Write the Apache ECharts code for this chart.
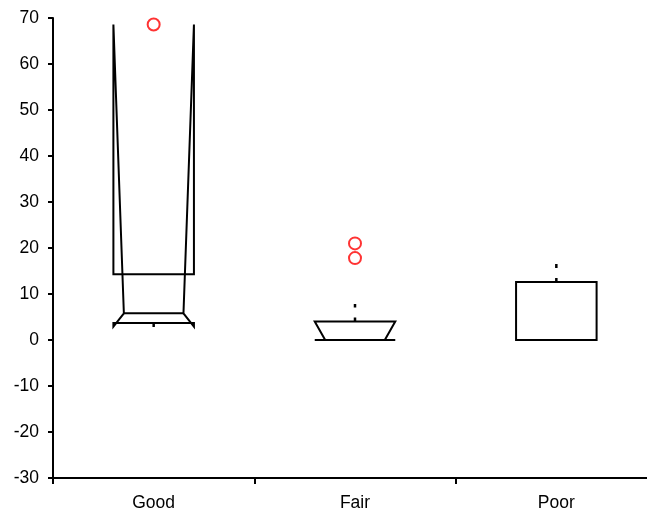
<!DOCTYPE html>
<html>
<head>
<meta charset="utf-8">
<script src="https://cdn.jsdelivr.net/npm/echarts@6/dist/echarts.min.js"></script>
<style>html,body{margin:0;padding:0;background:#fff;overflow:hidden;}#c{width:664px;height:517px;}</style>
</head>
<body>
<div id="c"></div>
<script>
var categories = ['Good', 'Fair', 'Poor'];
var q1 = [3.7, 0, 0];
var median = [5.8, 0, 0];
var q3 = [14.3, 4.0, 12.6];
var notchLow = [2.9, 0, 0];
var notchHigh = [68.6, 4.0, 0];
var whiskerLow = [2.8, 0, 0];
var whiskerHigh = [14.3, 7.8, 16.5];
var outliers = [[0, 68.6], [1, 21.0], [1, 17.8]];
var yTicks = {min: -30, max: 70, interval: 10};

var boxData = categories.map(function (c, i) {
  return [i, q1[i], median[i], q3[i], notchLow[i], notchHigh[i], whiskerLow[i], whiskerHigh[i]];
});

function renderBox(params, api) {
  var i = api.value(0);
  var band = api.size([1, 0])[0];
  var half = band * 0.2;
  var inset = half * 0.26;
  var cx = api.coord([i, 0])[0];
  var L = cx - half, R = cx + half, IL = L + inset, IR = R - inset;
  function y(v) { return api.coord([i, v])[1]; }
  var vq1 = api.value(1), vmed = api.value(2), vq3 = api.value(3);
  var vnl = api.value(4), vnh = api.value(5), vwl = api.value(6), vwh = api.value(7);
  var pts = [
    [L, y(vq1)], [L, y(vnl)], [IL, y(vmed)], [L, y(vnh)], [L, y(vq3)],
    [R, y(vq3)], [R, y(vnh)], [IR, y(vmed)], [R, y(vnl)], [R, y(vq1)]
  ];
  var children = [
    {type: 'polygon', shape: {points: pts}, style: {stroke: '#000', fill: 'none', lineWidth: 2}},
    {type: 'line', shape: {x1: IL, y1: y(vmed), x2: IR, y2: y(vmed)}, style: {stroke: '#000', lineWidth: 2}}
  ];
  if (vwh > vq3) {
    children.push({type: 'line', shape: {x1: cx, y1: y(vq3), x2: cx, y2: y(vwh)},
      style: {stroke: '#000', lineWidth: 2.5, lineDash: [4, 10]}});
  }
  if (vwl < vq1) {
    children.push({type: 'line', shape: {x1: cx, y1: y(vq1), x2: cx, y2: y(vwl)},
      style: {stroke: '#000', lineWidth: 2.5, lineDash: [4, 10]}});
  }
  return {type: 'group', children: children};
}

var font = 'Liberation Sans, Arial, sans-serif';
var chart = echarts.init(document.getElementById('c'), null, {renderer: 'canvas'});
chart.setOption({
  animation: false,
  backgroundColor: '#fff',
  grid: {left: 53, right: 7, top: 18, bottom: 39, containLabel: false},
  xAxis: {
    type: 'category',
    data: categories,
    boundaryGap: true,
    axisLine: {onZero: false, lineStyle: {color: '#000', width: 2}},
    axisTick: {show: true, inside: false, length: 6, alignWithLabel: false, lineStyle: {color: '#000', width: 2}},
    axisLabel: {color: '#000', fontSize: 17.5, fontFamily: font, margin: 16},
    splitLine: {show: false}
  },
  yAxis: {
    type: 'value',
    min: yTicks.min, max: yTicks.max, interval: yTicks.interval,
    axisLine: {show: true, lineStyle: {color: '#000', width: 2}},
    axisTick: {show: true, inside: false, length: 5, lineStyle: {color: '#000', width: 2}},
    axisLabel: {color: '#000', fontSize: 17.5, fontFamily: font, margin: 14},
    splitLine: {show: false}
  },
  series: [
    {type: 'custom', renderItem: renderBox, data: boxData, encode: {x: 0, y: [1, 2, 3, 5]}, z: 2},
    {type: 'scatter', data: outliers, symbol: 'circle', symbolSize: 12,
      itemStyle: {color: 'rgba(255,255,255,0)', borderColor: '#ff0000', borderWidth: 2}, z: 3}
  ]
});
</script>
</body>
</html>
